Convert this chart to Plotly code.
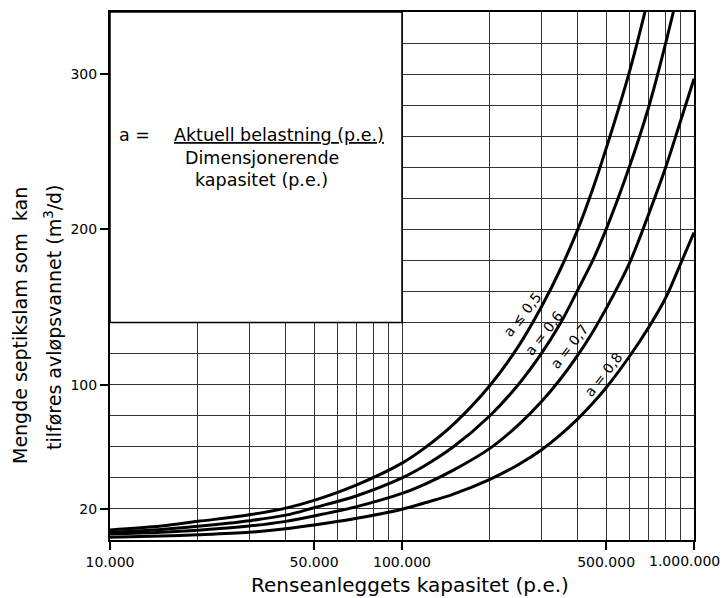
import plotly.graph_objects as go

# ---- data ----
capacity = [10000, 15000, 20000, 30000, 40000, 50000, 70000, 100000, 120000, 150000,
            200000, 250000, 300000, 350000, 400000, 450000, 500000, 600000, 700000,
            800000, 900000, 1000000]
q_a05 = [6.5, 9.0, 12.0, 16.2, 20.5, 25.5, 35.5, 49.5, 59.5, 74.5, 99.5, 124.5, 150, 175, 200, 226, 252, 301, 350, None, None, None]
q_a06 = [5.0, 6.8, 8.8, 12.4, 16.0, 20.8, 28.5, 40.0, 48, 60, 80, 100, 120, 140, 161, 180, 200, 240, 279, 320, 360, None]
q_a07 = [3.8, 5.0, 6.3, 9.0, 12.0, 15.5, 21.5, 30.0, 36, 45, 59, 74, 89, 104, 119, 134, 149, 178, 210, 240, 270, 297]
q_a08 = [1.8, 2.6, 3.4, 5.0, 7.2, 9.6, 14.0, 19.8, 24, 29.5, 39, 48.5, 58, 68, 78, 88, 98, 118, 137, 156, 178, 198]

series = [("a ≤ 0,5", q_a05), ("a = 0,6", q_a06), ("a = 0,7", q_a07), ("a = 0,8", q_a08)]

x_tickvals = [10000, 50000, 100000, 500000, 1000000]
x_ticktext = ["10.000", "50.000", "100.000", "500.000", "1.000.000"]
x_minor = [m * 10 ** e for e in (4, 5) for m in range(1, 10)] + [1000000]
y_tickvals = [20, 100, 200, 300]
y_minor = list(range(0, 341, 20))

FONT = "DejaVu Sans"
W, H = 724, 598
L, R, T, B = 110, 30, 12, 58
PW, PH = W - L - R, H - T - B


def px(xp):
    return (xp - L) / PW


def py(yp):
    return (H - B - yp) / PH


fig = go.Figure()
for name, vals in series:
    fig.add_trace(go.Scatter(x=capacity, y=vals, mode="lines", name=name,
                             line=dict(color="black", width=3, shape="spline", smoothing=1.0),
                             showlegend=False, hoverinfo="skip"))

grid_col = "#333333"
# the last tick label sits at the page edge, so it is drawn as a right-anchored text below
fig.update_xaxes(type="log", range=[4, 6], tickvals=x_tickvals,
                 ticktext=x_ticktext[:-1] + [""],
                 ticks="outside", ticklen=8, tickwidth=1.5, tickcolor="black",
                 automargin=False,
                 showgrid=True, gridcolor=grid_col, gridwidth=1,
                 minor=dict(tickmode="array", tickvals=x_minor, showgrid=True,
                            gridcolor=grid_col, gridwidth=1, ticks=""),
                 showline=True, linecolor="black", linewidth=1.5, mirror=True,
                 tickfont=dict(family=FONT, size=14, color="black"), zeroline=False)
fig.update_yaxes(range=[0, 340], tickvals=y_tickvals, automargin=False,
                 ticks="outside", ticklen=8, tickwidth=1.5, tickcolor="black",
                 showgrid=True, gridcolor=grid_col, gridwidth=1,
                 minor=dict(tickmode="array", tickvals=y_minor, showgrid=True,
                            gridcolor=grid_col, gridwidth=1, ticks=""),
                 showline=True, linecolor="black", linewidth=2, mirror=True,
                 tickfont=dict(family=FONT, size=14, color="black"), zeroline=False)

# white box (no grid) holding the formula; no curve enters this region
fig.add_shape(type="rect", xref="x domain", yref="y domain", x0=0, x1=0.5,
              y0=140 / 340, y1=1, fillcolor="white", line=dict(color="black", width=1.5),
              layer="above")

ann = []
ann.append(dict(x=px(134), y=py(135), text="a =", font=dict(size=17.5)))
ann.append(dict(x=px(279), y=py(135), text="<u>Aktuell belastning (p.e.)</u>", font=dict(size=17.5)))
ann.append(dict(x=px(262), y=py(158), text="Dimensjonerende", font=dict(size=17.5)))
ann.append(dict(x=px(261), y=py(180), text="kapasitet (p.e.)", font=dict(size=17.5)))
# curve labels
for txt, (cx, cy) in zip(["a ≤ 0,5", "a = 0,6", "a = 0,7", "a = 0,8"],
                         [(522, 315), (544, 333), (569, 347), (603, 375)]):
    ann.append(dict(x=px(cx), y=py(cy), text=txt, textangle=-52, font=dict(size=14)))
# axis titles
ann.append(dict(x=px(410), y=py(585), text="Renseanleggets kapasitet (p.e.)", font=dict(size=20)))
ann.append(dict(x=px(20), y=py(326), text="Mengde septikslam som  kan", textangle=-90, font=dict(size=19)))
ann.append(dict(x=px(53), y=py(317), text="tilføres avløpsvannet (m<sup>3</sup>/d)", textangle=-90, font=dict(size=19)))

for a in ann:
    a.update(xref="paper", yref="paper", showarrow=False, xanchor="center", yanchor="middle")
    a["font"].update(family=FONT, color="black")
    fig.add_annotation(**a)

# last x tick label, kept inside the page
fig.add_annotation(x=px(722), y=py(561), xref="paper", yref="paper", showarrow=False,
                   xanchor="right", yanchor="middle", text=x_ticktext[-1],
                   font=dict(family=FONT, size=14, color="black"))

fig.update_layout(width=W, height=H, margin=dict(l=L, r=R, t=T, b=B, autoexpand=False),
                  paper_bgcolor="white", plot_bgcolor="white",
                  font=dict(family=FONT, color="black"))

fig.write_html("out.html")
